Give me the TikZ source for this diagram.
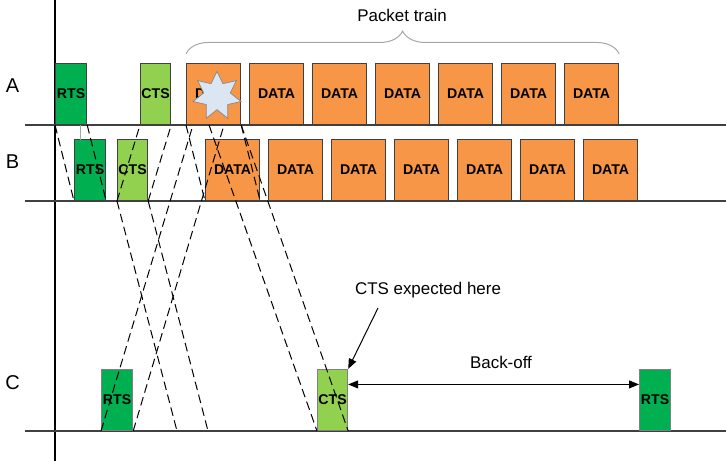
\documentclass[tikz,border=0pt]{standalone}
\usepackage{fontspec}
\setmainfont{Liberation Sans}
\usetikzlibrary{shapes.geometric,decorations.pathreplacing,arrows.meta}
\definecolor{rtsgreen}{HTML}{00B050}
\definecolor{ctsgreen}{HTML}{92D050}
\definecolor{dataorange}{HTML}{F79646}
\definecolor{burstblue}{HTML}{DCE6F2}

\begin{document}
\begin{tikzpicture}[x=0.75pt, y=-0.75pt,
    pkt/.style={draw=black!75, line width=0.9pt, minimum height=45.75pt,
      inner sep=0pt, anchor=south west, font=\bfseries\fontsize{10.6}{12}\selectfont},
    rts/.style={pkt, fill=rtsgreen, minimum width=23.25pt},
    cts/.style={pkt, fill=ctsgreen, minimum width=22.5pt},
    pktdata/.style={pkt, fill=dataorange, minimum width=40.5pt},
    prop/.style={dash pattern=on 6.5pt off 3.5pt, line width=0.75pt},
    timeline/.style={line width=1.1pt, black!75},
    note/.style={font=\fontsize{12.7}{15}\selectfont},
    rowlabel/.style={font=\fontsize{15}{17}\selectfont},
    tip/.style={line width=0.75pt}]
  \useasboundingbox (0,0) rectangle (726,461);

  % time lines of the three stations
  \draw[line width=1pt] (55,0) -- (55,461);
  \draw[timeline] (25,125) -- (726,125);
  \draw[timeline] (25,201) -- (726,201);
  \draw[timeline] (25,431) -- (726,431);
  \node[rowlabel] (labA) at (12.5,86) {A};
  \node[rowlabel] (labB) at (12.5,162) {B};
  \node[rowlabel] (labC) at (12.5,383) {C};

  % station A
  \node[rts] (rtsA) at (55,125) {RTS};
  \node[cts] (ctsA) at (140,125) {CTS};
  \foreach \i in {1,...,7}
    \node[pktdata] (dA\i) at ({186+63*(\i-1)},125) {DATA};
  \node[star, star points=7, star point ratio=1.8, minimum size=37pt, inner sep=0pt,
    fill=burstblue, draw=black!45, line width=0.6pt] (burst) at (217,96) {};

  % station B
  \node[rts] (rtsB) at (74,201) {RTS};
  \node[cts] (ctsB) at (117,201) {CTS};
  \foreach \i in {1,...,7}
    \node[pktdata] (dB\i) at ({205+63*(\i-1)},201) {DATA};
  \draw[black!35, line width=0.6pt] (80,125) -- (80,140);

  % station C
  \node[rts, draw=black!50] (rtsC) at (101,431) {RTS};
  \node[cts, draw=black!50] (ctsC) at (317,431) {CTS};
  \node[rts, draw=black!50] (rtsCb) at (639,431) {RTS};

  % packet train brace
  \draw[decorate, decoration={brace, amplitude=17pt}, draw=black!35, line width=0.75pt]
    ([yshift=6.75pt]dA1.north west) -- ([yshift=6.75pt]dA7.north east);
  \node[note] (train) at (402,15) {Packet train};

  % propagation
  \coordinate (ctsHeard1) at (177,431);
  \coordinate (ctsHeard2) at (208,431);
  \coordinate (rtsHeard1) at (193,125);
  \coordinate (rtsHeard2) at (224,125);
  \coordinate (ctsSent) at (209,125);
  \draw[prop] (rtsA.south west) -- (rtsB.south west);
  \draw[prop] (rtsA.south east) -- (rtsB.south east);
  \draw[prop] (ctsB.south west) -- (ctsA.south west);
  \draw[prop] (ctsB.south east) -- (ctsA.south east);
  \draw[prop] (dA1.south west) -- (dB1.south west);
  \draw[prop] (dA1.south east) -- (dB1.south east);
  \draw[prop] (ctsB.south west) -- (ctsHeard1);
  \draw[prop] (ctsB.south east) -- (ctsHeard2);
  \draw[prop] (rtsC.south west) -- (rtsHeard1);
  \draw[prop] (rtsC.south east) -- (rtsHeard2);
  \draw[prop] (ctsSent) -- (ctsC.south west);
  \draw[prop] (dA1.south east) -- (ctsC.south east);

  % annotations
  \node[note] (expect) at (428,290.5) {CTS expected here};
  \coordinate (expTail) at (378,308);
  \draw[tip, -{Triangle[length=7.5pt,width=6pt]}] (expTail) -- (ctsC.north east);
  \draw[tip, {Triangle[length=7.5pt,width=6pt]}-{Triangle[length=7.5pt,width=6pt]}]
    ([yshift=11.6pt]ctsC.east) -- ([yshift=11.6pt]rtsCb.west);
  \node[note] (backoff) at (501,362) {Back-off};
\end{tikzpicture}
\end{document}
